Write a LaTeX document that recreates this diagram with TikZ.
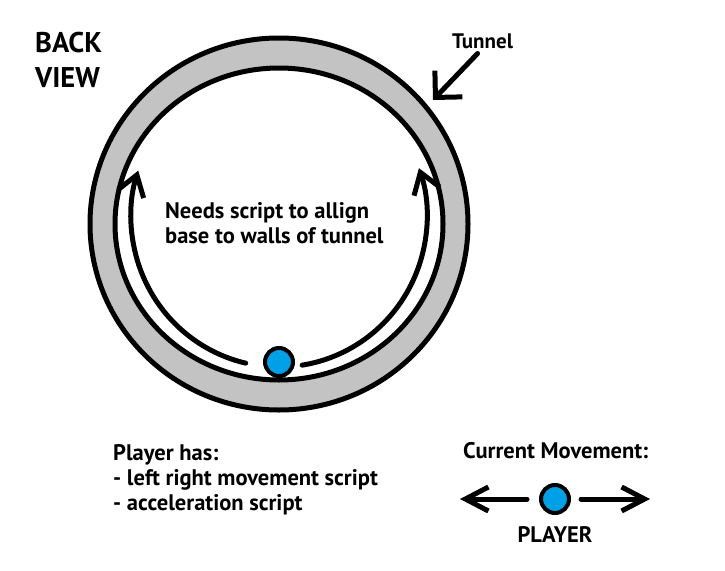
\documentclass[tikz,border=0pt]{standalone}
\usepackage{fontspec}
\setmainfont{PT Sans}
\usetikzlibrary{arrows.meta}
\definecolor{tunnelgray}{RGB}{195,195,195}
\definecolor{playerblue}{RGB}{0,160,230}

\begin{document}
\begin{tikzpicture}[x=1pt, y=-1pt,
  txt/.style={font=\bfseries\fontsize{22.5}{25}\selectfont, anchor=base west, inner sep=0pt, align=left},
  wall/.style={line width=5pt},
  arr/.style={line width=5pt, line cap=round, -{Straight Barb[length=20pt, width=27pt]}},
  ball/.style={circle, draw, line width=4pt, fill=playerblue, minimum size=28pt, inner sep=0pt}]
\useasboundingbox (0,0) rectangle (725,570);
\coordinate (c) at (279,224);
\coordinate (ac) at (279,217);
% tunnel ring
\draw[wall, fill=tunnelgray] (c) ellipse [x radius=189, y radius=186];
\draw[wall, fill=white] (c) ellipse [x radius=164, y radius=156];
% labels
\node[txt, font=\bfseries\fontsize{28.5}{35}\selectfont] (view) at (35,87) {BACK\\VIEW};
\node[txt, font=\bfseries\fontsize{21}{25}\selectfont] (tunnel) at (452,48) {Tunnel};
\node[txt] (needs) at (165,243) {Needs script to allign\\base to walls of tunnel};
\node[txt] (has) at (113,510) {Player has:\\- left right movement script\\- acceleration script};
\node[txt] (current) at (463,458) {Current Movement:};
% player in tunnel
\node[ball] (player) at (279,362) {};
\draw[arr] (ac) ++(103:148 and 150) arc[start angle=103, end angle=198, x radius=148, y radius=150];
\draw[arr] (ac) ++(81:148 and 150) arc[start angle=81, end angle=-19, x radius=148, y radius=150];
% tunnel pointer
\coordinate (wallpt) at (433,100);
\draw[arr, -{Straight Barb[length=19pt, width=38pt]}] ([xshift=-5pt, yshift=-5pt]tunnel.south) -- (wallpt);
% current movement
\node[ball] (curball) at (555,499) {};
\node[txt, anchor=base] (playerlbl) at (555,542) {PLAYER};
\coordinate (lefttip) at (460,499);
\coordinate (righttip) at (650,499);
\draw[arr, -{Straight Barb[length=23pt, width=24pt]}, shorten <=12pt] (curball.west) -- (lefttip);
\draw[arr, -{Straight Barb[length=23pt, width=24pt]}, shorten <=10pt] (curball.east) -- (righttip);
\end{tikzpicture}
\end{document}
